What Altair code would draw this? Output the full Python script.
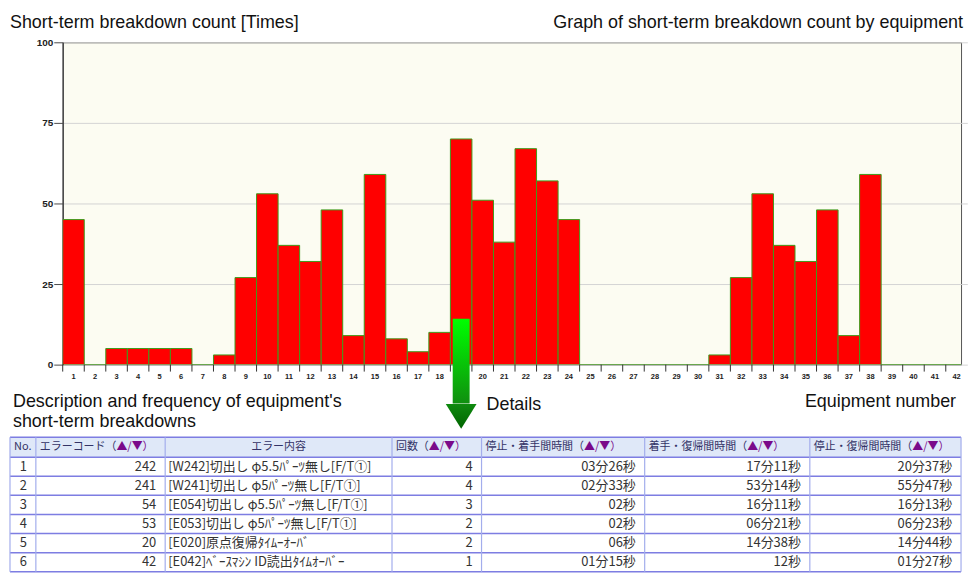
import altair as alt
import pandas as pd

# ---------------- data ----------------
equipment = list(range(1, 43))
counts = [45, 0, 5, 5, 5, 5, 0, 3, 27, 53, 37, 32, 48, 9, 59, 8, 4, 10, 70, 51,
          38, 67, 57, 45, 0, 0, 0, 0, 0, 0, 3, 27, 53, 37, 32, 48, 9, 59, 0, 0, 0, 0]
y_ticks = [0, 25, 50, 75, 100]
highlight_equipment = [19]

title_left = "Short-term breakdown count [Times]"
title_right = "Graph of short-term breakdown count by equipment"
note_desc_1 = "Description and frequency of equipment's"
note_desc_2 = "short-term breakdowns"
note_details = "Details"
note_axis = "Equipment number"

headers = ["No.", "エラーコード（▲/▼）", "エラー内容", "回数（▲/▼）",
           "停止・着手間時間（▲/▼）", "着手・復帰間時間（▲/▼）", "停止・復帰間時間（▲/▼）"]
row_no = [1, 2, 3, 4, 5, 6]
error_codes = [242, 241, 54, 53, 20, 42]
error_texts = ["[W242]切出し φ5.5ﾊﾟｰﾂ無し[F/T①]",
               "[W241]切出し φ5ﾊﾟｰﾂ無し[F/T①]",
               "[E054]切出し φ5.5ﾊﾟｰﾂ無し[F/T①]",
               "[E053]切出し φ5ﾊﾟｰﾂ無し[F/T①]",
               "[E020]原点復帰ﾀｲﾑｰｵｰﾊﾞ",
               "[E042]ﾍﾞｰｽﾏｼﾝ ID読出ﾀｲﾑｵｰﾊﾞｰ"]
occurrences = [4, 4, 3, 2, 2, 1]
stop_to_start = ["03分26秒", "02分33秒", "02秒", "02秒", "06秒", "01分15秒"]
start_to_recover = ["17分11秒", "53分14秒", "16分11秒", "06分21秒", "14分38秒", "12秒"]
stop_to_recover = ["20分37秒", "55分47秒", "16分13秒", "06分23秒", "14分44秒", "01分27秒"]

# ---------------- layout constants ----------------
W, H = 903, 324            # visible plot area (right end of the axis runs past it, as in the source)
X_RANGE = 909.3            # pixel span of the 42 equipment bands
LEFT = 53                  # distance from page content edge to plot origin
LATIN = "Liberation Sans"
CJK = "Noto Sans CJK JP"

# ---------------- bar chart ----------------
df = pd.DataFrame({"eq": equipment, "count": counts})
base = alt.Chart(df)

x_scale = alt.Scale(paddingInner=0, paddingOuter=0, range=[0, X_RANGE])
x_enc = alt.X("eq:O", scale=x_scale,
              axis=alt.Axis(title=None, labelAngle=0, ticks=False, tickSize=0, domain=False,
                            grid=False, labelFont=LATIN, labelFontSize=7.5,
                            labelFontWeight="bold", labelColor="#222", labelPadding=8))
y_enc = alt.Y("count:Q",
              scale=alt.Scale(domain=[0, 100], nice=False),
              axis=alt.Axis(title=None, values=y_ticks, domainColor="#4a4a4a", domainWidth=1.5,
                            tickColor="#4a4a4a", tickSize=9, labelPadding=1, labelFont=LATIN,
                            labelFontSize=10, labelFontWeight="bold", labelColor="#222",
                            grid=True, gridColor="#d4d4d4", gridWidth=1))

bars = base.mark_bar(color="#ff0000", stroke="#3f9a1c", strokeWidth=1, clip=True).encode(
    x=x_enc, y=y_enc)

xticks = base.mark_rule(color="#333333", strokeWidth=1).encode(
    x=alt.X("eq:O", bandPosition=0),
    y=alt.value(H),
    y2=alt.value(H + 7),
)

hl = pd.DataFrame({"eq": highlight_equipment})
shaft_grad = alt.LinearGradient(
    gradient="linear",
    stops=[alt.GradientStop(color="#00ff00", offset=0),
           alt.GradientStop(color="#0f8f0f", offset=1)],
    x1=0, x2=0, y1=0, y2=1)
head_grad = alt.LinearGradient(
    gradient="linear",
    stops=[alt.GradientStop(color="#0f8a0f", offset=0),
           alt.GradientStop(color="#006400", offset=1)],
    x1=0, x2=0, y1=0, y2=1)

shaft = alt.Chart(hl).mark_bar(width=17, fill=shaft_grad).encode(
    x=alt.X("eq:O"), y=alt.value(278), y2=alt.value(363))
head = alt.Chart(hl).mark_point(
    shape="M-1,-0.8L1,-0.8L0,0.8Z", size=961, filled=True, fill=head_grad,
    opacity=1, strokeWidth=0).encode(x=alt.X("eq:O"), y=alt.value(376))


def label(text, x, y, align="left"):
    return alt.Chart(pd.DataFrame({"t": [text]})).mark_text(
        font=LATIN, fontSize=18, color="#111111", align=align, baseline="alphabetic").encode(
        text="t:N", x=alt.value(x), y=alt.value(y))


texts = [
    label(title_left, -LEFT, -14),
    label(title_right, W + 2, -14, "right"),
    label(note_desc_1, -50, 367),
    label(note_desc_2, -50, 387),
    label(note_details, 426, 370),
    label(note_axis, 898, 367, "right"),
]

top = alt.layer(bars, xticks, shaft, head, *texts).properties(
    width=W, height=H,
    view=alt.ViewBackground(fill="#fcfcf2", stroke="#555555", strokeWidth=1))

# ---------------- table ----------------
TW = LEFT + W
col_edges = [0, 26, 156, 384, 474, 638, 804, TW]
header_h, row_h = 20, 19.2
row_edges = [0, header_h] + [header_h + row_h * (i + 1) for i in range(len(row_no))]
TH = row_edges[-1]
HFS, BFS = 11, 13

cells = []
for r in range(len(row_edges) - 1):
    for c in range(len(col_edges) - 1):
        cells.append({"x0": col_edges[c], "x1": col_edges[c + 1],
                      "y0": row_edges[r], "y1": row_edges[r + 1],
                      "kind": "header" if r == 0 else "body"})
cells = pd.DataFrame(cells)

hdr_rows, arr_rows, ctr_rows = [], [], []
for c, h in enumerate(headers):
    if c == 2:
        ctr_rows.append({"tx": (col_edges[2] + col_edges[3]) / 2, "ty": header_h / 2, "t": h})
        continue
    if "▲" in h:
        b, rest = h.split("▲", 1)
        hdr_rows.append({"tx": col_edges[c] + 4, "ty": header_h / 2, "t": b})
        arr_rows.append({"tx": col_edges[c] + 4 + len(b) * HFS, "ty": header_h / 2, "t": "▲" + rest})
    else:
        hdr_rows.append({"tx": col_edges[c] + 4, "ty": header_h / 2, "t": h})

columns = [row_no, error_codes, error_texts, occurrences, stop_to_start, start_to_recover, stop_to_recover]
right_rows, left_rows = [], []
for c, col in enumerate(columns):
    for r, v in enumerate(col):
        ty = (row_edges[r + 1] + row_edges[r + 2]) / 2
        if c == 2:
            left_rows.append({"tx": col_edges[c] + 3, "ty": ty, "t": str(v)})
        else:
            right_rows.append({"tx": col_edges[c + 1] - 9, "ty": ty, "t": str(v)})


def TX(f):
    return alt.X(f, type="quantitative",
                 scale=alt.Scale(domain=[LEFT, TW], nice=False, zero=False), axis=None)


def TY(f):
    return alt.Y(f, type="quantitative",
                 scale=alt.Scale(domain=[0, TH], nice=False, zero=False, reverse=True), axis=None)


cell_layer = alt.Chart(cells).mark_rect().encode(
    x=TX("x0"), x2="x1", y=TY("y0"), y2="y1",
    fill=alt.Fill("kind:N", scale=alt.Scale(domain=["header", "body"],
                                            range=["#dfe8f8", "#ffffff"]), legend=None))

hl_df = pd.DataFrame({"y": row_edges, "xa": [0] * len(row_edges), "xb": [TW] * len(row_edges)})
hlines = alt.Chart(hl_df).mark_rule(color="#7d7de2", strokeWidth=1.5).encode(
    y=TY("y"), x=TX("xa"), x2="xb")
vl_df = pd.DataFrame({"x": col_edges, "ya": [0] * len(col_edges), "yb": [TH] * len(col_edges)})
vlines = alt.Chart(vl_df).mark_rule(color="#a3adec", strokeWidth=1.2).encode(
    x=TX("x"), y=TY("ya"), y2="yb")


def tlayer(rows, align, size, color):
    return alt.Chart(pd.DataFrame(rows)).mark_text(
        font=CJK, fontSize=size, color=color, align=align, baseline="middle").encode(
        x=TX("tx"), y=TY("ty"), text="t:N")


table = alt.layer(
    cell_layer, hlines, vlines,
    tlayer(hdr_rows, "left", HFS, "#333366"),
    tlayer(arr_rows, "left", HFS, "#7a0a8a"),
    tlayer(ctr_rows, "center", HFS, "#333366"),
    tlayer(right_rows, "right", BFS, "#333333"),
    tlayer(left_rows, "left", BFS, "#333333"),
).properties(width=TW - LEFT, height=TH, view=alt.ViewBackground(stroke="transparent"))

chart = alt.vconcat(top, table, spacing=3).properties(
    padding={"left": 0, "top": 4, "right": 0, "bottom": 0}, background="#ffffff")

chart.save("out.html", embed_options={"renderer": "svg", "actions": False})
